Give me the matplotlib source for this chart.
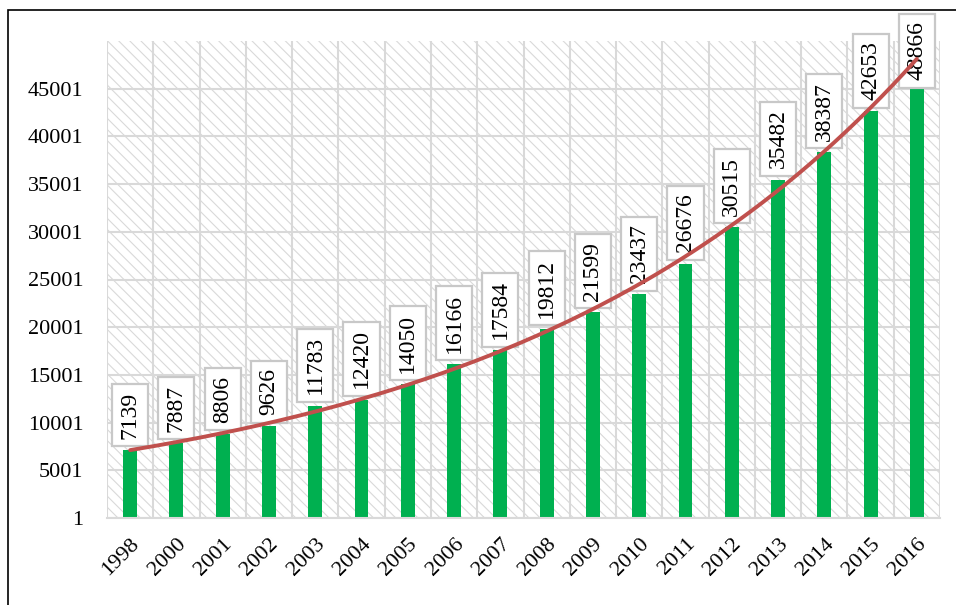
import numpy as np
import matplotlib
matplotlib.use("Agg")
import matplotlib.pyplot as plt
from matplotlib.patches import Rectangle
from matplotlib.ticker import FixedLocator

plt.rcParams["font.family"] = ["Liberation Serif", "DejaVu Serif"]
plt.rcParams["hatch.color"] = "#d4d4d4"
plt.rcParams["hatch.linewidth"] = 0.8

years = ["1998", "2000", "2001", "2002", "2003", "2004", "2005", "2006", "2007",
         "2008", "2009", "2010", "2011", "2012", "2013", "2014", "2015", "2016"]
values = [7139, 7887, 8806, 9626, 11783, 12420, 14050, 16166, 17584,
          19812, 21599, 23437, 26676, 30515, 35482, 38387, 42653, 48866]
y_ticks = [1, 5001, 10001, 15001, 20001, 25001, 30001, 35001, 40001, 45001]

BAR_COLOR = "#00b050"
TREND_COLOR = "#c0504d"
GRID_COLOR = "#d9d9d9"

W, H = 956, 605
fig = plt.figure(figsize=(W / 100, H / 100), dpi=100)
ax = fig.add_axes([107 / W, 1 - 518 / H, (940 - 107) / W, (518 - 41) / H])

x = np.arange(len(years))

# hatched plot-area background
ax.add_patch(Rectangle((0, 0), 1, 1, transform=ax.transAxes, facecolor="white",
                       edgecolor=GRID_COLOR, hatch="\\\\\\", linewidth=0, zorder=0))

ax.bar(x, values, width=0.3, color=BAR_COLOR, zorder=2)

# value labels in boxes above the bars
labels = []
for xi, v in zip(x, values):
    t = ax.annotate(str(v), (xi, v), xytext=(0, 8), textcoords="offset points",
                    rotation=90, ha="center", va="bottom", fontsize=17, zorder=4,
                    bbox=dict(boxstyle="square,pad=0.32", facecolor="white",
                              edgecolor="#c8c8c8", linewidth=1.6))
    labels.append(t)

# exponential trend line, drawn over the labels
k, b = np.polyfit(x, np.log(values), 1)
xt = np.linspace(x[0], x[-1], 200)
ax.plot(xt, np.exp(b + k * xt), color=TREND_COLOR, linewidth=2.8, zorder=5,
        solid_capstyle="round")

ax.set_xlim(-0.5, len(years) - 0.5)
ax.set_ylim(1, 50001)
ax.set_yticks(y_ticks)
ax.set_yticklabels([str(t) for t in y_ticks], fontsize=16)
ax.set_xticks(x)
ax.set_xticklabels(years, rotation=45, ha="right", rotation_mode="anchor", fontsize=16)
ax.xaxis.set_minor_locator(FixedLocator(np.arange(-0.5, len(years), 1.0)))
ax.tick_params(which="both", length=0)
ax.tick_params(axis="y", pad=17)
ax.tick_params(axis="x", pad=12)
ax.grid(True, axis="y", which="major", color=GRID_COLOR, linewidth=1.5, zorder=1)
ax.grid(True, axis="x", which="minor", color=GRID_COLOR, linewidth=1.5, zorder=1)
ax.grid(False, axis="x", which="major")
ax.set_axisbelow(True)
for s in ax.spines.values():
    s.set_visible(False)
ax.spines["bottom"].set_visible(True)
ax.spines["bottom"].set_color(GRID_COLOR)
ax.spines["bottom"].set_linewidth(1.5)

# outer frame
fig.patches.append(Rectangle((8 / W, -0.1), 1.2, 1.1 - 10 / H,
                             transform=fig.transFigure, fill=False,
                             edgecolor="black", linewidth=1.2))

# keep label boxes inside the frame: push down any that stick out at the top
fig.canvas.draw()
top_limit = H - 14
for t in labels:
    bb = t.get_bbox_patch().get_window_extent()
    if bb.y1 > top_limit:
        dy = (bb.y1 - top_limit) * 72 / fig.dpi
        t.xyann = (0, 8 - dy)

fig.savefig("out.png", dpi=100)
